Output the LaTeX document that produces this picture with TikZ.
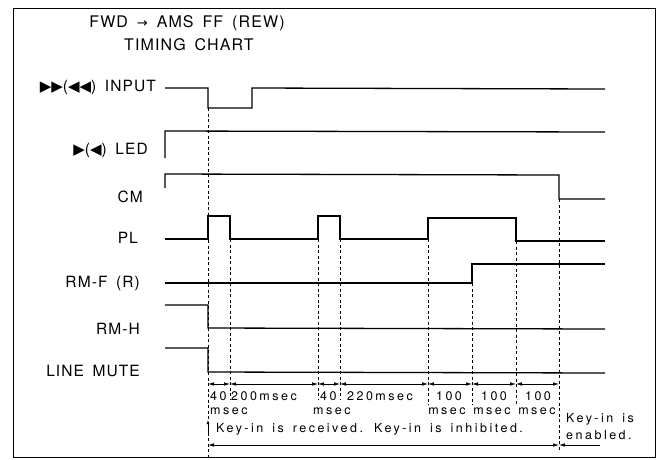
\documentclass[tikz,border=0pt]{standalone}
\usepackage{fontspec}
\setmainfont{TeX Gyre Heros}
\newfontfamily\bigf[LetterSpace=7,WordSpace=1.6]{TeX Gyre Heros}
\newfontfamily\smallf[LetterSpace=20,WordSpace=1.5]{TeX Gyre Heros}
\newfontfamily\symf{DejaVu Sans}
\usetikzlibrary{arrows.meta}
\newcommand\tri[1]{{\symf\fontsize{15}{15}\selectfont #1}}
\newcommand\arr[1]{{\symf\fontsize{13}{13}\selectfont #1}}
\begin{document}
\begin{tikzpicture}[x=1pt,y=-1pt,
  sig/.style={line width=1.3pt, line join=miter},
  guide/.style={line width=0.6pt, dash pattern=on 3pt off 2.5pt},
  lbl/.style={font=\bigf\fontsize{15.5}{18}\selectfont, anchor=east, inner sep=0pt},
  ttl/.style={font=\bigf\fontsize{16}{18}\selectfont, inner sep=0pt},
  sm/.style={font=\smallf\fontsize{12.5}{14}\selectfont, inner sep=0pt},
  dim/.style={line width=0.6pt, {Latex[length=6pt,width=3.5pt]}-{Latex[length=6pt,width=3.5pt]}},
  dimr/.style={line width=0.6pt, -{Latex[length=6pt,width=3.5pt]}}]
\useasboundingbox (0,0) rectangle (662,459);
\draw[line width=0.9pt] (13,8) rectangle (655,457);
% title
\node[ttl] (title1) at (187,23) {FWD \arr{→} AMS FF (REW)};
\node[ttl] (title2) at (189,45) {TIMING CHART};
% labels
\node[lbl] (linput) at (156,87) {\tri{▶▶}(\tri{◀◀}) INPUT};
\node[lbl] (lled) at (148,150) {\tri{▶}(\tri{◀}) LED};
\node[lbl] (lcm) at (143,197) {CM};
\node[lbl] (lpl) at (138,238) {PL};
\node[lbl] (lrmf) at (140,283) {RM-F (R)};
\node[lbl] (lrmh) at (140,329) {RM-H};
\node[lbl] (lmute) at (140,371) {LINE MUTE};
% guides
\draw[guide] (208,108) -- (208,457);
\draw[guide] (230,239) -- (230,400);
\draw[guide] (318,239) -- (318,400);
\draw[guide] (340,239) -- (340,400);
\draw[guide] (428,239) -- (428,405);
\draw[guide] (472,283) -- (472,405);
\draw[guide] (516,241) -- (516,405);
\draw[guide] (559,199) -- (559,452);
% signals
\draw[sig] (165,88) -- (208,88) -- (208,108) -- (252,108) -- (252,88) -- (605,89);
\draw[sig] (165,158) -- (165,131) -- (605,132);
\draw[sig] (165,188) -- (165,174) -- (559,175) -- (559,199) -- (605,199);
\draw[sig] (165,239) -- (208,239) -- (208,216) -- (230,216) -- (230,239) -- (318,239) -- (318,216) -- (340,216) -- (340,239) -- (428,239) -- (428,218) -- (516,218) -- (516,241) -- (605,241);
\draw[sig] (165,283) -- (472,283) -- (472,264) -- (605,264);
\draw[sig] (165,305) -- (208,305) -- (208,328) -- (605,329);
\draw[sig] (165,348) -- (208,348) -- (208,372) -- (605,373);
% dimension arrows
\foreach \a/\b in {208/230,230/318,318/340,340/428,428/472,472/516,516/559}
  \draw[dim] (\a,384) -- (\b,384);
\draw[dim] (208,445) -- (559,445);
\draw[dimr] (600,445) -- (559,445);
\draw[line width=0.8pt,-{Latex[length=4pt,width=3pt]}] (208,436) -- (208,420);
% texts
\node[sm,anchor=west] (d1) at (210,396) {40};
\node[sm] (d2) at (264,396) {200msec};
\node[sm,anchor=west] (d3) at (320,396) {40};
\node[sm] (d4) at (380,396) {220msec};
\node[sm] (d5) at (449,396) {100};
\node[sm] (d6) at (494,396) {100};
\node[sm] (d7) at (538,396) {100};
\node[sm,anchor=west] (m1) at (210,411) {msec};
\node[sm,anchor=west] (m2) at (313,411) {msec};
\node[sm] (m3) at (447,411) {msec};
\node[sm] (m4) at (492,411) {msec};
\node[sm] (m5) at (537,411) {msec};
\node[sm,anchor=west] (k1) at (216,429) {Key-in is received. Key-in is inhibited.};
\node[sm,anchor=west] (k2) at (566,419) {Key-in is};
\node[sm,anchor=west] (k3) at (566,435) {enabled.};
\end{tikzpicture}
\end{document}
